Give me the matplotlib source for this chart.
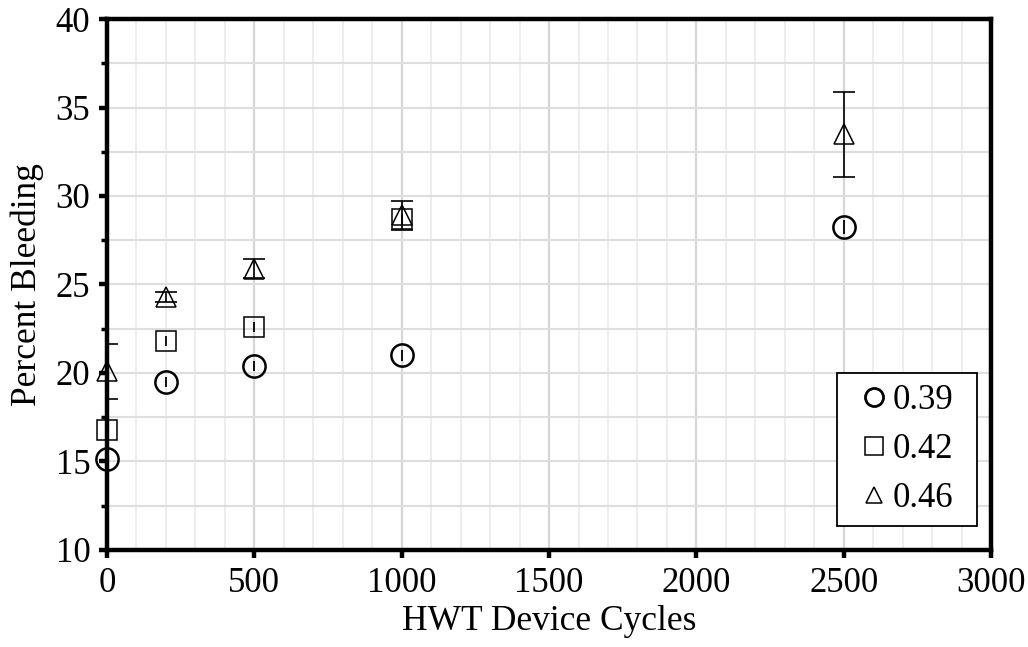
import numpy as np
import matplotlib.pyplot as plt
from matplotlib.lines import Line2D
from matplotlib.patches import Rectangle
from matplotlib.ticker import MultipleLocator

plt.rcParams['font.family'] = ['Liberation Serif', 'DejaVu Serif']

# data
cycles = [0, 200, 500, 1000, 2500]
bleed_039 = [15.15, 19.5, 20.4, 21.0, 28.25]
err_039 = [0.3, 0.3, 0.3, 0.3, 0.4]
cycles_042 = [0, 200, 500, 1000]
bleed_042 = [16.8, 21.8, 22.6, 28.7]
err_042 = [0.3, 0.3, 0.3, 0.3]
bleed_046 = [20.1, 24.3, 25.9, 28.9, 33.5]
err_046 = [1.55, 0.3, 0.55, 0.8, 2.4]
labels = ['0.39', '0.42', '0.46']

fig = plt.figure(figsize=(10.28, 6.47), dpi=100)
ax = fig.add_axes([0.1041, 0.15, 0.86, 0.8206])

ax.set_xlim(0, 3000)
ax.set_ylim(10, 40)
ax.xaxis.set_major_locator(MultipleLocator(500))
ax.xaxis.set_minor_locator(MultipleLocator(100))
ax.yaxis.set_major_locator(MultipleLocator(5))
ax.yaxis.set_minor_locator(MultipleLocator(2.5))

ax.grid(which='minor', axis='x', color='#ececec', lw=1.3)
ax.grid(which='major', axis='x', color='#d6d6d6', lw=1.6)
ax.grid(which='both', axis='y', color='#dedede', lw=1.5)
ax.set_axisbelow(True)

for s in ax.spines.values():
    s.set_linewidth(3.2)
ax.tick_params(which='major', direction='out', length=6, width=3.2, labelsize=25, pad=6)
ax.tick_params(axis='x', which='minor', length=0)
ax.tick_params(axis='y', which='minor', direction='out', length=4, width=2.5)

# error bars clipped to the plot area, markers drawn on top unclipped
ax.errorbar(cycles, bleed_039, yerr=err_039, fmt='none', ecolor='black', elinewidth=1.3, capsize=0, zorder=4)
ax.errorbar(cycles_042, bleed_042, yerr=err_042, fmt='none', ecolor='black', elinewidth=1.3, capsize=0, zorder=4)
ax.errorbar(cycles, bleed_046, yerr=err_046, fmt='none', ecolor='black', elinewidth=1.2,
            capsize=8, capthick=1.2, zorder=4)

ax.plot(cycles, bleed_039, 'o', ms=16, mfc='none', mec='black', mew=1.8, clip_on=False, zorder=5)
ax.plot(cycles_042, bleed_042, 's', ms=15, mfc='none', mec='black', mew=1.1, clip_on=False, zorder=5)
ax.plot(cycles, bleed_046, '^', ms=15, mfc='none', mec='black', mew=1.1, clip_on=False, zorder=5)

ax.set_xlabel('HWT Device Cycles', fontsize=25.5, labelpad=4)
ax.set_ylabel('Percent Bleeding', fontsize=25.5, labelpad=8)

# legend box drawn separately so it can be wider than its contents
ax.add_patch(Rectangle((0.826, 0.0452), 0.158, 0.288, transform=ax.transAxes, facecolor='white',
                       edgecolor='black', lw=1.3, zorder=6))
handles = [Line2D([], [], ls='none', marker='o', ms=13, mfc='none', mec='black', mew=2.0),
           Line2D([], [], ls='none', marker='s', ms=13.5, mfc='none', mec='black', mew=1.1),
           Line2D([], [], ls='none', marker='^', ms=12, mfc='none', mec='black', mew=1.1)]
leg = ax.legend(handles, labels, loc='center', bbox_to_anchor=(0.905, 0.189), borderaxespad=0,
                fontsize=25, frameon=False, handlelength=0.75, handletextpad=0.15,
                labelspacing=0.45, borderpad=0)
leg.set_zorder(7)

fig.savefig('out.png', dpi=100)
